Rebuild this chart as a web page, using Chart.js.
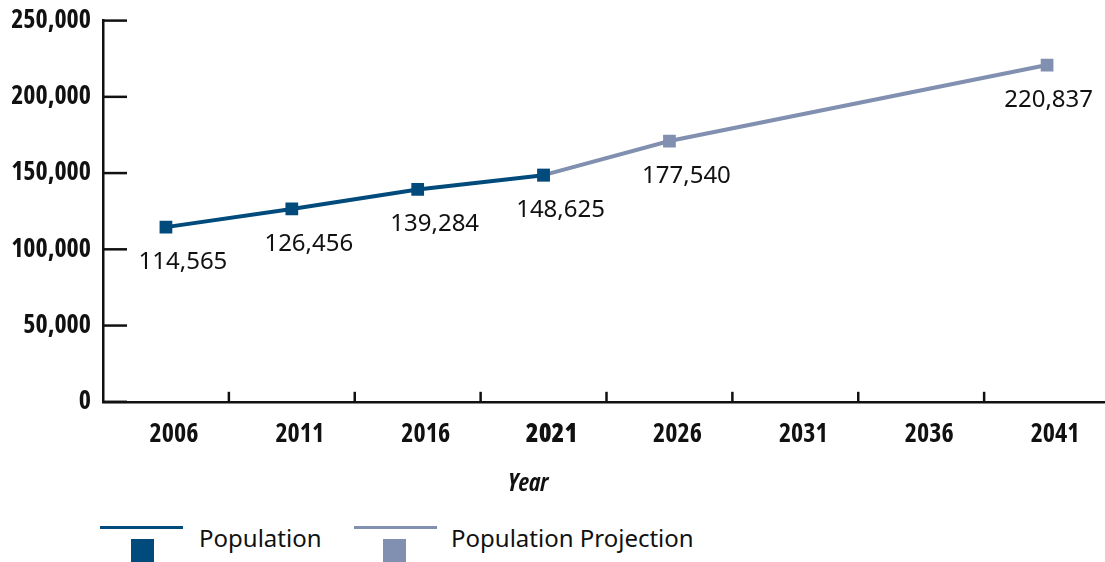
<!DOCTYPE html>
<html>
<head>
<meta charset="utf-8">
<script src="https://cdn.jsdelivr.net/npm/chart.js@4"></script>
<style>
    body { margin: 0; background: #fff; width: 1105px; height: 562px; overflow: hidden; position: relative; }
    #wrap { position: absolute; left: 0; top: 1px; width: 1119px; height: 512px; }
    #xtitle { position: absolute; left: 488px; top: 464px; width: 80px; text-align: center;
        font: italic bold 25px 'Open Sans', sans-serif; font-stretch: condensed; color: #111; }
    .leg-line { position: absolute; height: 3px; top: 526px; width: 83px; }
    .leg-box { position: absolute; top: 539px; width: 23px; height: 23px; }
    .leg-text { position: absolute; top: 521px; font: 24px 'Noto Sans', sans-serif; color: #111; }
</style>
</head>
<body>
<div id="wrap"><canvas id="popChart"></canvas></div>
<div id="xtitle">Year</div>
<div class="leg-line" style="left:100px;background:#004b7c"></div>
<div class="leg-box" style="left:131px;background:#004b7c"></div>
<div class="leg-text" style="left:199px">Population</div>
<div class="leg-line" style="left:354px;background:#8190b0"></div>
<div class="leg-box" style="left:383px;background:#8190b0"></div>
<div class="leg-text" style="left:451px">Population Projection</div>
<script>
const years = ['2006', '2011', '2016', '2021', '2026', '2031', '2036', '2041'];
// measured values (2026 point sits lower than its printed label in the original)
const population = [114565, 126456, 139284, 148625, null, null, null, null];
const projection = [null, null, null, 148625, 171000, null, null, 220837];
const popLabels = ['114,565', '126,456', '139,284', '148,625', null, null, null, null];
const projLabels = [null, null, null, null, '177,540', null, null, '220,837'];
const yTicks = [0, 50000, 100000, 150000, 200000, 250000];

const darkBlue = '#004b7c';
const slate = '#8190b0';
const axisFont = "'Open Sans', sans-serif";

// tick marks drawn inside the plot, and the value labels
const decorations = {
    id: 'decorations',
    afterDraw(chart) {
        const ctx = chart.ctx;
        const area = chart.chartArea;
        const x = chart.scales.x;
        const y = chart.scales.y;
        ctx.save();
        ctx.strokeStyle = '#111';
        ctx.lineWidth = 2.5;
        y.ticks.forEach((t, i) => {
            const py = y.getPixelForTick(i);
            ctx.beginPath();
            ctx.moveTo(area.left, py);
            ctx.lineTo(area.left + 24, py);
            ctx.stroke();
        });
        for (let i = 1; i < years.length; i++) {
            const px = x.getPixelForValue(i - 0.5);
            ctx.beginPath();
            ctx.moveTo(px, area.bottom);
            ctx.lineTo(px, area.bottom - 10);
            ctx.stroke();
        }
        ctx.font = "24px 'Noto Sans', sans-serif";
        ctx.fillStyle = '#111';
        ctx.textAlign = 'center';
        ctx.textBaseline = 'middle';
        [[0, popLabels], [1, projLabels]].forEach(([di, texts]) => {
            const meta = chart.getDatasetMeta(di);
            meta.data.forEach((pt, i) => {
                if (!texts[i]) return;
                const half = ctx.measureText(texts[i]).width / 2;
                const lx = Math.min(pt.x + 17, chart.width - 26 - half);
                ctx.fillText(texts[i], lx, pt.y + 35);
            });
        });
        ctx.restore();
    }
};

const ctx = document.getElementById('popChart').getContext('2d');
new Chart(ctx, {
    type: 'line',
    data: {
        labels: years,
        datasets: [{
            label: 'Population',
            data: population,
            borderColor: darkBlue,
            backgroundColor: darkBlue,
            borderWidth: 4,
            pointStyle: 'rect',
            pointRadius: 9,
            pointBorderWidth: 0,
            tension: 0
        }, {
            label: 'Population Projection',
            data: projection,
            borderColor: slate,
            backgroundColor: slate,
            borderWidth: 4,
            pointStyle: 'rect',
            pointRadius: 9,
            pointBorderWidth: 0,
            spanGaps: true,
            tension: 0
        }]
    },
    options: {
        responsive: true,
        maintainAspectRatio: false,
        animation: false,
        layout: { padding: { top: 0, right: 0, bottom: 54, left: 0 } },
        plugins: {
            legend: { display: false },
            tooltip: { enabled: false }
        },
        scales: {
            x: {
                offset: true,
                grid: { display: false, offset: true },
                border: { display: true, color: '#111', width: 2.5 },
                ticks: {
                    color: '#111',
                    padding: 9,
                    labelOffset: 8,
                    maxRotation: 0,
                    autoSkip: false,
                    font: (c) => ({ family: axisFont, size: 26, weight: c.index === 3 ? '800 condensed' : '700 condensed' })
                }
            },
            y: {
                min: 0,
                max: 250000,
                afterBuildTicks: (scale) => { scale.ticks = yTicks.map(v => ({ value: v })); },
                afterFit: (scale) => { scale.width = 103; },
                grid: { display: false },
                border: { display: true, color: '#111', width: 2.5 },
                ticks: {
                    color: '#111',
                    padding: 4,
                    font: { family: axisFont, size: 26, weight: '700 condensed' },
                    callback: (v) => v.toLocaleString('en-US')
                }
            }
        }
    },
    plugins: [decorations]
});
</script>
</body>
</html>
